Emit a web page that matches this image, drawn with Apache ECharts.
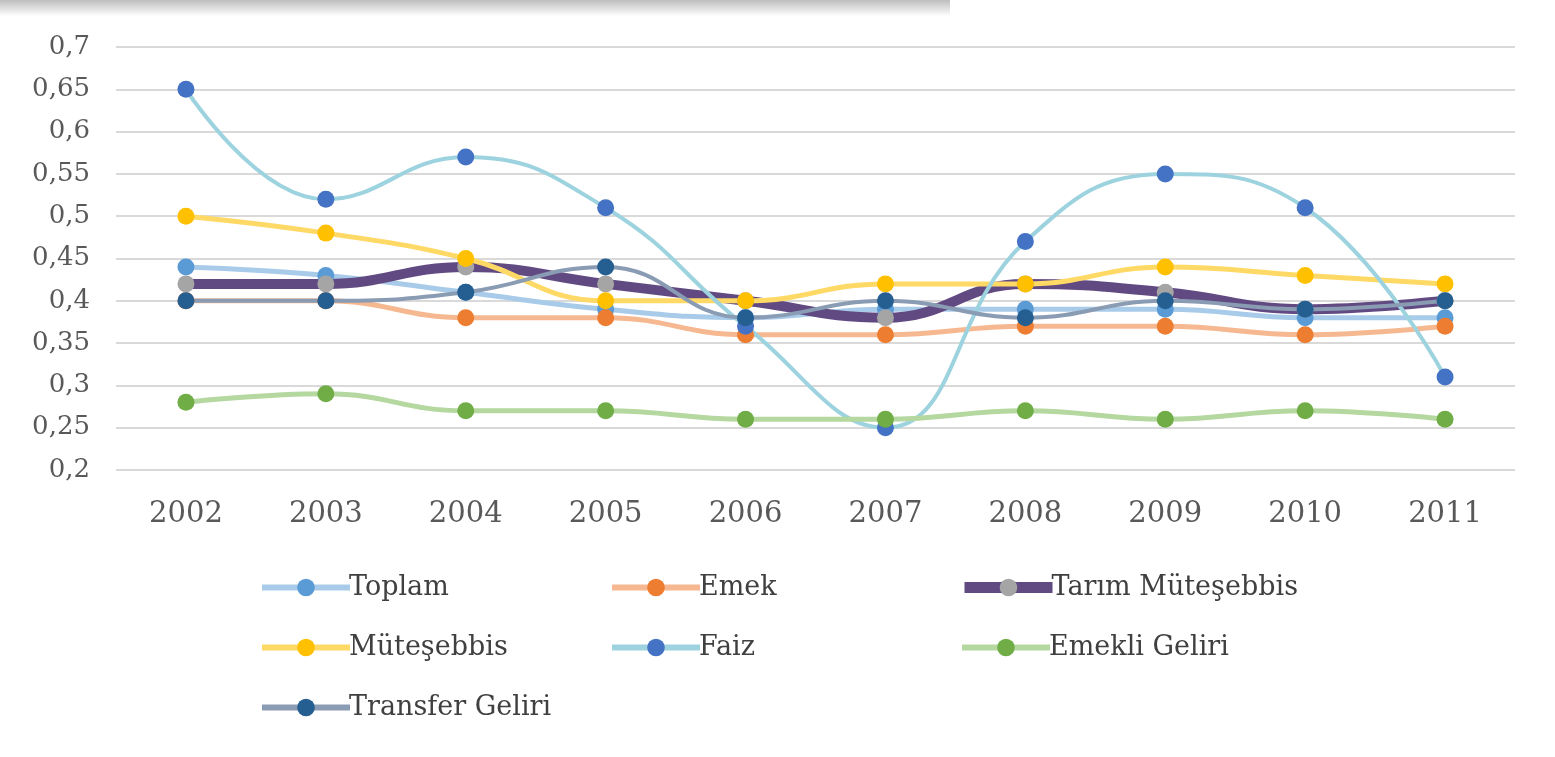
<!DOCTYPE html>
<html>
<head>
<meta charset="utf-8">
<script src="https://cdn.jsdelivr.net/npm/echarts@6/dist/echarts.min.js"></script>
<style>
  html, body { margin: 0; padding: 0; background: #fff; }
  #main { width: 1555px; height: 757px; }
</style>
</head>
<body>
<div id="main"></div>
<script>
// years on the x axis
var years = ["2002", "2003", "2004", "2005", "2006", "2007", "2008", "2009", "2010", "2011"];

// values
var toplam = [0.44, 0.43, 0.41, 0.39, 0.38, 0.39, 0.39, 0.39, 0.38, 0.38];
var emek = [0.40, 0.40, 0.38, 0.38, 0.36, 0.36, 0.37, 0.37, 0.36, 0.37];
var tarimMutesebbis = [0.42, 0.42, 0.44, 0.42, 0.40, 0.38, 0.42, 0.41, 0.39, 0.40];
var mutesebbis = [0.50, 0.48, 0.45, 0.40, 0.40, 0.42, 0.42, 0.44, 0.43, 0.42];
var faiz = [0.65, 0.52, 0.57, 0.51, 0.37, 0.25, 0.47, 0.55, 0.51, 0.31];
var emekliGeliri = [0.28, 0.29, 0.27, 0.27, 0.26, 0.26, 0.27, 0.26, 0.27, 0.26];
var transferGeliri = [0.40, 0.40, 0.41, 0.44, 0.38, 0.40, 0.38, 0.40, 0.39, 0.40];

var chart = echarts.init(document.getElementById("main"));

// name, data, line colour, marker colour, line width
var defs = [
  ["Toplam", toplam, "#a9cbea", "#5b9bd5", 5],
  ["Emek", emek, "#f6b891", "#ed7d31", 5],
  ["Tarım Müteşebbis", tarimMutesebbis, "#614a82", "#a5a5a5", 10],
  ["Müteşebbis", mutesebbis, "#ffd966", "#ffc000", 5],
  ["Faiz", faiz, "#9dd3df", "#4472c4", 4],
  ["Emekli Geliri", emekliGeliri, "#b5d7a0", "#70ad47", 5],
  ["Transfer Geliri", transferGeliri, "#8a9cb3", "#255e91", 4]
];

var series = defs.map(function (d) {
  return {
    name: d[0],
    type: "line",
    data: d[1],
    smooth: 0.45,
    symbol: "circle",
    symbolSize: 17,
    lineStyle: { color: d[2], width: d[4] },
    itemStyle: { color: d[3] }
  };
});

// legend: 3 columns like the excel one
var legendPos = [
  [259, 574], [609, 574], [959, 574],
  [259, 634], [609, 634], [959, 634],
  [259, 694]
];
var legends = defs.map(function (d, i) {
  return {
    data: [d[0]],
    left: legendPos[i][0],
    top: legendPos[i][1],
    padding: 0,
    itemWidth: 88,
    itemHeight: 22,
    itemGap: 0,
    lineStyle: { width: d[4] > 5 ? 11 : 6 },
    textStyle: {
      fontFamily: "DejaVu Serif",
      fontSize: 27,
      color: "#404040",
      padding: [0, 0, 0, -6]
    }
  };
});

var option = {
  backgroundColor: "#fff",
  animation: false,
  graphic: [
    {
      type: "rect",
      left: 0,
      top: 0,
      shape: { width: 950, height: 16 },
      style: {
        fill: new echarts.graphic.LinearGradient(0, 0, 0, 1, [
          { offset: 0, color: "#bdbdbd" },
          { offset: 1, color: "#ffffff" }
        ])
      },
      silent: true
    }
  ],
  legend: legends,
  grid: {
    left: 116,
    right: 40,
    top: 47,
    bottom: 287
  },
  xAxis: {
    type: "category",
    data: years,
    boundaryGap: true,
    axisLine: { show: false },
    axisTick: { show: false },
    axisLabel: {
      margin: 30,
      fontFamily: "DejaVu Serif",
      fontSize: 29,
      color: "#595959"
    }
  },
  yAxis: {
    type: "value",
    min: 0.2,
    max: 0.7,
    interval: 0.05,
    axisLine: { show: false },
    axisTick: { show: false },
    splitLine: { lineStyle: { color: "#d9d9d9", width: 2 } },
    axisLabel: {
      margin: 26,
      fontFamily: "DejaVu Serif",
      fontSize: 26,
      color: "#595959",
      formatter: function (v) {
        return String(Math.round(v * 100) / 100).replace(".", ",");
      }
    }
  },
  series: series
};

chart.setOption(option);
</script>
</body>
</html>
